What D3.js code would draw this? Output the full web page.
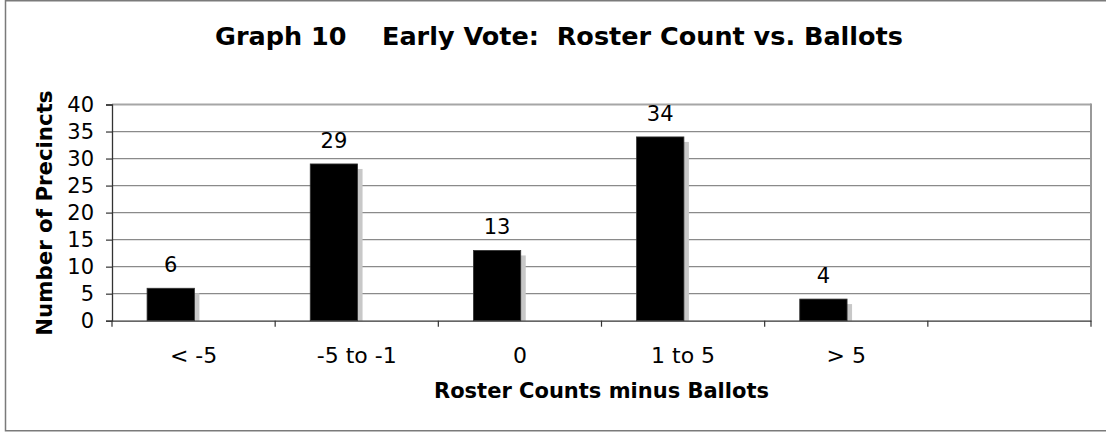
<!DOCTYPE html>
<html>
<head>
<meta charset="utf-8">
<script src="https://cdn.jsdelivr.net/npm/d3@7"></script>
<style>
  html, body { margin: 0; padding: 0; background: #fff; }
  svg { display: block; }
  text { font-family: "DejaVu Sans", Verdana, sans-serif; fill: #000; }
</style>
</head>
<body>
<svg id="chart" width="1106" height="432"></svg>
<script>
// Precinct counts by difference between roster count and ballots cast
const categories = ["< -5", "-5 to -1", "0", "1 to 5", "> 5", ""];
const precincts = [6, 29, 13, 34, 4];
const yTicks = [0, 5, 10, 15, 20, 25, 30, 35, 40];

const svg = d3.select("#chart");
const W = 1106, H = 432;
const plot = { left: 112, right: 1091, top: 104.5, bottom: 320.7 };

// Outer frame
svg.append("rect")
  .attr("x", 5.5).attr("y", 0.75)
  .attr("width", W + 10).attr("height", 430)
  .attr("fill", "none").attr("stroke", "#7a7a7a").attr("stroke-width", 1.5);

const x = d3.scaleBand().domain(categories).range([plot.left, plot.right]).padding(0);
const y = d3.scaleLinear().domain([0, 40]).range([plot.bottom, plot.top]);

// Horizontal gridlines
svg.append("g").selectAll("line").data(yTicks.filter(t => t > 0)).join("line")
  .attr("x1", plot.left).attr("x2", plot.right)
  .attr("y1", d => y(d)).attr("y2", d => y(d))
  .attr("stroke", d => d === 40 ? "#a6a6a6" : "#8a8a8a")
  .attr("stroke-width", d => d === 40 ? 2 : 1.2);

// Right edge of the plot area
svg.append("line")
  .attr("x1", plot.right).attr("x2", plot.right)
  .attr("y1", plot.top - 1).attr("y2", plot.bottom)
  .attr("stroke", "#999").attr("stroke-width", 2);

// Bars with a soft drop shadow
const barOffset = 0.215, barWidth = 0.29, shadow = 5;
const bars = svg.append("g");
bars.selectAll("rect.shadow").data(precincts).join("rect")
  .attr("class", "shadow")
  .attr("x", (d, i) => x(categories[i]) + x.bandwidth() * barOffset + shadow)
  .attr("y", d => y(d) + shadow)
  .attr("width", x.bandwidth() * barWidth)
  .attr("height", d => plot.bottom - y(d) - shadow)
  .attr("fill", "#c8c8c8");
bars.selectAll("rect.bar").data(precincts).join("rect")
  .attr("class", "bar")
  .attr("x", (d, i) => x(categories[i]) + x.bandwidth() * barOffset)
  .attr("y", d => y(d))
  .attr("width", x.bandwidth() * barWidth)
  .attr("height", d => plot.bottom - y(d))
  .attr("fill", "#000").attr("stroke", "#333").attr("stroke-width", 0.8);

// Value labels above the bars
svg.append("g").selectAll("text").data(precincts).join("text")
  .attr("x", (d, i) => x(categories[i]) + x.bandwidth() * (barOffset + barWidth / 2))
  .attr("y", d => y(d) - 16)
  .attr("text-anchor", "middle")
  .attr("font-size", 21)
  .text(d => d);

// Y axis
const yAxis = svg.append("g")
  .attr("transform", `translate(${plot.left},0)`)
  .call(d3.axisLeft(y).tickValues(yTicks).tickSize(6).tickPadding(12));
yAxis.select(".domain").attr("stroke", "#333").attr("stroke-width", 1.3);
yAxis.selectAll(".tick line").attr("stroke", "#333").attr("stroke-width", 1.2);
yAxis.selectAll(".tick text").attr("font-size", 21).attr("font-family", "DejaVu Sans").attr("fill", "#000");

// X axis: ticks sit on the category boundaries
const xAxis = svg.append("g")
  .attr("transform", `translate(0,${plot.bottom})`)
  .call(d3.axisBottom(x).tickSize(0).tickPadding(27));
xAxis.select(".domain").attr("stroke", "#333").attr("stroke-width", 1.3);
xAxis.selectAll(".tick text").attr("font-size", 22).attr("font-family", "DejaVu Sans").attr("fill", "#000");
const bounds = categories.map(c => x(c)).concat([plot.right]);
xAxis.append("g").selectAll("line").data(bounds).join("line")
  .attr("x1", d => d).attr("x2", d => d)
  .attr("y1", 0).attr("y2", 6)
  .attr("stroke", "#333").attr("stroke-width", 1.2);

// Titles
svg.append("text")
  .attr("x", 559).attr("y", 45)
  .attr("text-anchor", "middle")
  .attr("font-size", 25.5).attr("font-weight", "bold")
  .attr("xml:space", "preserve")
  .text("Graph 10    Early Vote:  Roster Count vs. Ballots");

svg.append("text")
  .attr("x", (plot.left + plot.right) / 2).attr("y", 398)
  .attr("text-anchor", "middle")
  .attr("font-size", 21).attr("font-weight", "bold")
  .text("Roster Counts minus Ballots");

svg.append("text")
  .attr("transform", `translate(52,${(plot.top + plot.bottom) / 2 + 0.5}) rotate(-90)`)
  .attr("text-anchor", "middle")
  .attr("font-size", 21.3).attr("font-weight", "bold")
  .text("Number of Precincts");
</script>
</body>
</html>
